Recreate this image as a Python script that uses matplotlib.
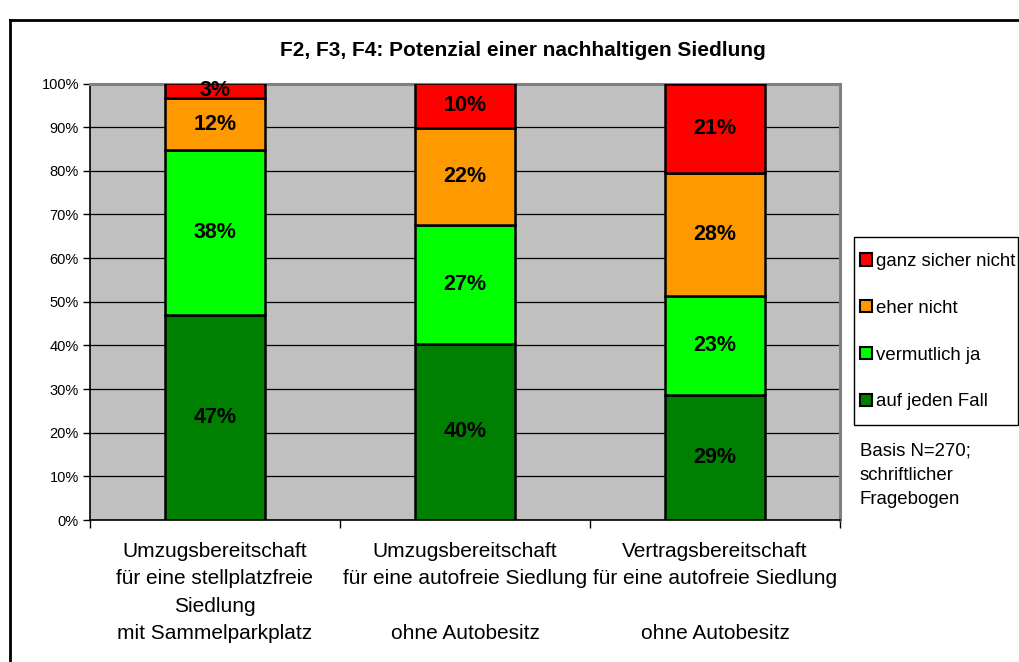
import matplotlib
matplotlib.use("Agg")
import matplotlib.pyplot as plt
from matplotlib.patches import Patch, Rectangle
from matplotlib.lines import Line2D
import numpy as np

plt.rcParams['font.family'] = ['Liberation Sans', 'DejaVu Sans']

categories = [
    "Umzugsbereitschaft\nfür eine stellplatzfreie\nSiedlung\nmit Sammelparkplatz",
    "Umzugsbereitschaft\nfür eine autofreie Siedlung\n\nohne Autobesitz",
    "Vertragsbereitschaft\nfür eine autofreie Siedlung\n\nohne Autobesitz",
]
series_names = ["auf jeden Fall", "vermutlich ja", "eher nicht", "ganz sicher nicht"]
auf_jeden_fall = [47.0, 40.4, 28.6]
vermutlich_ja = [37.8, 27.1, 22.7]
eher_nicht = [11.8, 22.2, 28.1]
ganz_sicher_nicht = [3.4, 10.3, 20.6]
series_values = [auf_jeden_fall, vermutlich_ja, eher_nicht, ganz_sicher_nicht]
colors = ["#008000", "#00FF00", "#FF9900", "#FF0000"]
yticks = [0, 10, 20, 30, 40, 50, 60, 70, 80, 90, 100]
ytick_labels = [f"{v}%" for v in yticks]
title = "F2, F3, F4: Potenzial einer nachhaltigen Siedlung"
note = "Basis N=270;\nschriftlicher\nFragebogen"

W, H = 1020, 662
fig = plt.figure(figsize=(W / 100, H / 100), dpi=100)
ax = fig.add_axes([90 / W, 1 - 520 / H, 750 / W, (520 - 83.5) / H])
ax.set_facecolor("#C0C0C0")

x = np.arange(len(categories))
bottom = np.zeros(len(categories))
for name, vals, c in zip(series_names, series_values, colors):
    vals = np.array(vals)
    bars = ax.bar(x, vals, 0.4, bottom=bottom, color=c, edgecolor="black",
                  linewidth=1.8, zorder=3, label=name)
    labels = ax.bar_label(bars, labels=[f"{v:.0f}%" for v in vals],
                          label_type="center", fontsize=15.5,
                          fontweight="bold", color="black", zorder=4)
    for t in labels:
        t.set_clip_on(True)
    bottom += vals

ax.set_xlim(-0.5, 2.5)
ax.set_ylim(0, 100)
ax.set_yticks(yticks)
ax.set_yticklabels(ytick_labels, fontsize=10.5)
ax.yaxis.grid(True, color="black", linewidth=0.9, zorder=1)
ax.set_axisbelow(True)
ax.tick_params(axis="y", direction="out", length=5, width=1, pad=3, colors="black")

ax.set_xticks(x)
ax.set_xticklabels(categories, fontsize=15, linespacing=1.55)
ax.set_xticks([-0.5, 0.5, 1.5, 2.5], minor=True)
ax.tick_params(axis="x", which="major", length=0, pad=16)
ax.tick_params(axis="x", which="minor", length=6, width=1, direction="out")

for s in ["left", "bottom"]:
    ax.spines[s].set_color("black")
    ax.spines[s].set_linewidth(1.2)
for s in ["top", "right"]:
    ax.spines[s].set_color("#808080")
    ax.spines[s].set_linewidth(2.2)

fig.text(523 / W, 1 - 50 / H, title, ha="center", va="center",
         fontsize=15, fontweight="bold")

# legend frame
fig.add_artist(Rectangle((854 / W, 1 - 425 / H), (1018 - 854) / W,
                         (425 - 237) / H, transform=fig.transFigure,
                         facecolor="white", edgecolor="black", linewidth=1.0,
                         zorder=2))
handles = [Patch(facecolor=c, edgecolor="black", linewidth=1.5)
           for c in colors[::-1]]
leg = fig.legend(handles, series_names[::-1], loc="upper left",
                 bbox_to_anchor=(860 / W, 1 - 253 / H), fontsize=13.4,
                 frameon=False, borderpad=0, labelspacing=1.6,
                 handlelength=0.63, handleheight=0.63, handletextpad=0.25,
                 borderaxespad=0)
leg.set_zorder(3)

fig.text(860 / W, 1 - 442 / H, note, ha="left", va="top", fontsize=13.4,
         linespacing=1.58)

# outer chart frame
fig.add_artist(Line2D([10 / W, 10 / W], [0, 1 - 20 / H], color="black",
                      linewidth=2, transform=fig.transFigure))
fig.add_artist(Line2D([10 / W, 1], [1 - 20 / H, 1 - 20 / H], color="black",
                      linewidth=2, transform=fig.transFigure))

fig.savefig("out.png", dpi=100)
